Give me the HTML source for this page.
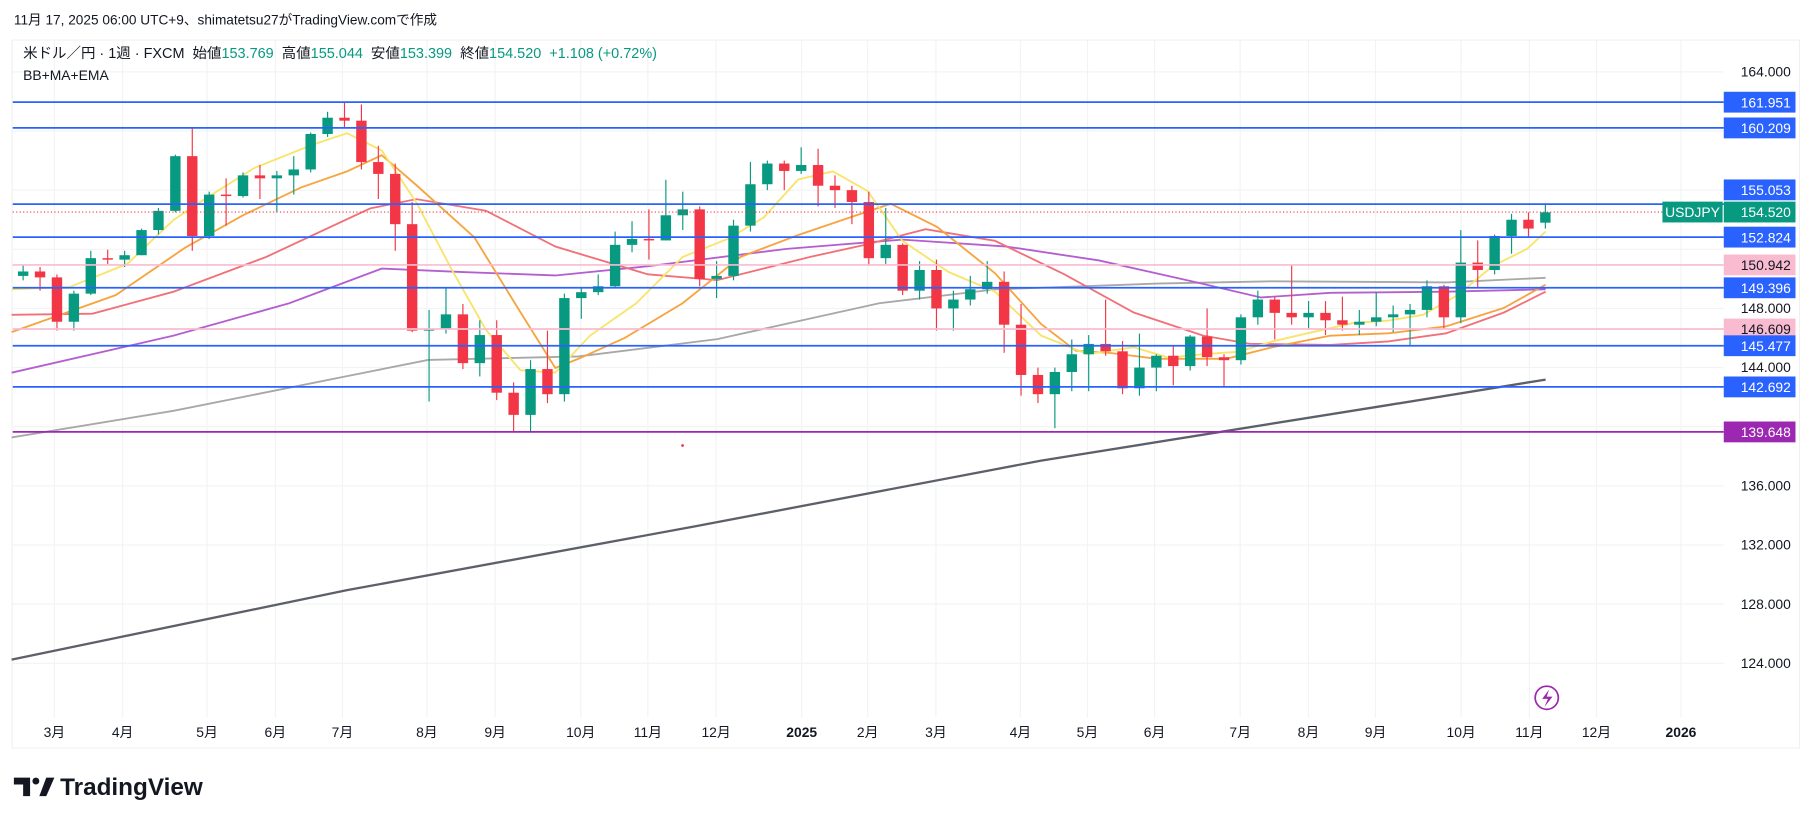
<!DOCTYPE html>
<html><head><meta charset="utf-8">
<style>
html,body{margin:0;padding:0;background:#fff;}
svg{display:block;}
text{font-family:"Liberation Sans","Noto Sans CJK JP",sans-serif;}
</style></head>
<body>
<svg id="c" width="1814" height="824" viewBox="0 0 1568 712" xmlns="http://www.w3.org/2000/svg">
<rect width="1568" height="712" fill="#fff"/>
<text x="12" y="21" font-size="11.8" fill="#131722">11月 17, 2025 06:00 UTC+9、shimatetsu27がTradingView.comで作成</text>
<rect x="10.5" y="34.5" width="1545" height="612" fill="#fff" stroke="#f0f0f0"/>
<g id="grid" stroke="#f2f3f5" stroke-width="1"></g>
<g id="lines" fill="none" stroke-width="1.6"></g>
<g id="candles"></g>
<g id="hl"></g>
<text x="20" y="50" font-size="12.5" fill="#131722" xml:space="preserve">米ドル／円 · 1週 · FXCM  始値<tspan fill="#089981">153.769</tspan>  高値<tspan fill="#089981">155.044</tspan>  安値<tspan fill="#089981">153.399</tspan>  終値<tspan fill="#089981">154.520  +1.108 (+0.72%)</tspan></text>
<text x="20" y="69" font-size="12" fill="#131722">BB+MA+EMA</text>
<g id="axis" font-size="12" fill="#131722"></g>
<circle cx="590" cy="385" r="1.2" fill="#f23645"/>
<circle cx="1337" cy="603" r="10" fill="none" stroke="#9c27b0" stroke-width="1.5"/>
<path d="M1339 596 L1333 604 L1338 604 L1335 611 L1342 602 L1337 602 Z" fill="#9c27b0"/>
<g transform="translate(12,669)">
<path d="M0 3 H14 V19 H8 V9 H0 Z" fill="#131722"/>
<circle cx="19" cy="6" r="3" fill="#131722"/>
<path d="M22 19 L28 3 H35 L28 19 Z" fill="#131722"/>
<text x="40" y="18" font-size="21" font-weight="bold" fill="#131722">TradingView</text>
</g>
</svg>
<script>
const NS="http://www.w3.org/2000/svg";
function el(t,a,p,txt){const e=document.createElementNS(NS,t);for(const k in a)e.setAttribute(k,a[k]);if(txt!==undefined)e.textContent=txt;p.appendChild(e);return e;}
const Y=p=>62+(164-p)*12.78;
const grid=document.getElementById('grid');
const months=[[47,'3月'],[106,'4月'],[179,'5月'],[238,'6月'],[296,'7月'],[369,'8月'],[428,'9月'],[502,'10月'],[560,'11月'],[619,'12月'],[693,'2025',1],[750,'2月'],[809,'3月'],[882,'4月'],[940,'5月'],[998,'6月'],[1072,'7月'],[1131,'8月'],[1189,'9月'],[1263,'10月'],[1322,'11月'],[1380,'12月'],[1453,'2026',1]];
const axis=document.getElementById('axis');
months.forEach(m=>{el('line',{x1:m[0],x2:m[0],y1:35,y2:620},grid);
 el('text',{x:m[0],y:637,'text-anchor':'middle','font-weight':m[2]?'bold':'normal'},axis,m[1]);});
for(let p=124;p<=164;p+=4){el('line',{x1:11,x2:1490,y1:Y(p),y2:Y(p)},grid);}
[164,148,144,136,132,128,124].forEach(p=>el('text',{x:1548,y:Y(p)+4,'text-anchor':'end'},axis,p.toFixed(3)));
const L=document.getElementById('lines');
const poly=(pts,c,w)=>el('polyline',{points:pts.map(p=>p.join(',')).join(' '),stroke:c,'stroke-width':w||1.6},L);
poly([[10,570],[300,510],[600,455],[900,398],[1200,350],[1336,328]],'#5d606b',2);
poly([[10,378],[150,355],[300,325],[370,311],[500,308],[620,293],[760,262],[860,250],[1000,245],[1100,243],[1250,244],[1336,240]],'#a8a8a8');
poly([[10,322],[150,290],[250,262],[330,232],[400,235],[480,238],[560,230],[680,215],[780,207],[870,213],[950,225],[1030,243],[1090,257],[1150,253],[1250,252],[1336,250]],'#b45fcf');
poly([[10,272],[80,271],[150,252],[230,222],[320,180],[360,172],[420,182],[480,213],[560,237],[620,242],[700,222],[750,211],[800,198],[860,208],[920,237],[980,270],[1040,290],[1080,297],[1150,298],[1200,295],[1250,288],[1300,270],[1336,252]],'#f07178');
poly([[10,287],[100,255],[160,214],[210,186],[260,162],[300,148],[330,134],[360,160],[410,205],[450,270],[480,318],[500,310],[540,292],[590,262],[640,222],[690,203],[740,186],[770,176],[810,196],[860,236],[900,280],[930,303],[960,305],[1000,310],[1060,310],[1100,300],[1150,290],[1200,288],[1250,282],[1300,266],[1336,246]],'#f7a440');
poly([[10,250],[60,248],[110,228],[150,190],[180,170],[220,145],[270,125],[300,115],[330,130],[360,175],[390,232],[420,285],[450,320],[480,322],[510,290],[550,262],[590,222],[630,206],[660,188],[690,155],[720,148],[750,165],[780,208],[820,235],[860,252],[900,290],[940,306],[980,300],[1010,309],[1040,306],[1070,304],[1100,295],[1130,288],[1170,279],[1200,277],[1230,272],[1260,255],[1290,230],[1320,215],[1336,200]],'#f9e46a');
const d=[[150.2,150.9,149.9,150.5],[150.5,150.8,149.2,150.1],[150.1,150.3,146.5,147.1],[147.1,149.2,146.5,149.0],[149.0,151.9,148.9,151.4],[151.4,151.97,151.0,151.3],[151.3,151.9,150.8,151.6],[151.6,153.4,151.6,153.3],[153.3,154.8,153.0,154.6],[154.6,158.4,154.5,158.3],[158.3,160.2,151.9,152.9],[152.9,155.9,152.7,155.7],[155.7,156.8,153.6,155.6],[155.6,157.2,155.5,157.0],[157.0,157.7,155.4,156.8],[156.8,157.3,154.5,157.0],[157.0,158.3,155.7,157.4],[157.4,159.9,157.2,159.8],[159.8,161.3,159.6,160.9],[160.9,161.95,160.2,160.7],[160.7,161.8,157.4,157.9],[157.9,159.0,155.4,157.1],[157.1,157.8,151.9,153.7],[153.7,155.2,146.4,146.5],[146.5,147.9,141.7,146.6],[146.6,149.4,146.3,147.6],[147.6,148.3,143.9,144.3],[144.3,147.2,143.4,146.2],[146.2,147.2,141.8,142.3],[142.3,143.0,139.6,140.8],[140.8,144.5,139.6,143.9],[143.9,146.5,141.6,142.2],[142.2,149.0,141.7,148.7],[148.7,149.4,147.3,149.1],[149.1,150.3,148.9,149.5],[149.5,153.2,149.4,152.3],[152.3,153.9,151.8,152.7],[152.7,154.7,151.3,152.6],[152.6,156.7,152.6,154.3],[154.3,155.9,153.3,154.7],[154.7,154.9,149.5,150.0],[150.0,151.2,148.7,150.2],[150.2,154.0,149.9,153.6],[153.6,157.9,153.2,156.4],[156.4,158.0,156.0,157.8],[157.8,158.0,156.0,157.3],[157.3,158.9,157.1,157.7],[157.7,158.8,154.9,156.3],[156.3,157.0,154.8,156.0],[156.0,156.3,153.7,155.2],[155.2,155.9,150.9,151.4],[151.4,154.8,151.0,152.3],[152.3,152.4,148.9,149.2],[149.2,151.2,148.6,150.6],[150.6,151.3,146.5,148.0],[148.0,149.2,146.5,148.6],[148.6,150.2,148.2,149.3],[149.3,151.2,149.0,149.8],[149.8,150.5,145.0,146.9],[146.9,148.3,142.1,143.5],[143.5,144.0,141.6,142.2],[142.2,144.0,139.9,143.7],[143.7,145.9,142.4,144.9],[144.9,146.2,142.4,145.6],[145.6,148.6,144.8,145.1],[145.1,145.8,142.2,142.6],[142.6,146.3,142.1,144.0],[144.0,144.9,142.4,144.8],[144.8,145.5,142.8,144.1],[144.1,146.2,143.8,146.1],[146.1,148.0,144.1,144.7],[144.7,144.9,142.7,144.5],[144.5,147.6,144.2,147.4],[147.4,149.2,146.9,148.6],[148.6,148.8,145.9,147.7],[147.7,150.9,146.9,147.4],[147.4,148.5,146.6,147.7],[147.7,148.5,146.2,147.2],[147.2,148.8,146.5,146.9],[146.9,147.9,146.2,147.1],[147.1,149.1,146.8,147.4],[147.4,148.2,146.4,147.6],[147.6,148.3,145.5,147.9],[147.9,149.9,147.4,149.5],[149.5,149.6,146.6,147.4],[147.4,153.3,147.0,151.1],[151.1,152.6,149.4,150.6],[150.6,153.0,150.3,152.9],[152.9,154.4,151.7,154.0],[154.0,154.5,152.8,153.4],[153.8,155.0,153.4,154.5]];
const C=document.getElementById('candles');
d.forEach((c,i)=>{const x=20+i*14.62;const up=c[3]>=c[0];const col=up?'#089981':'#f23645';
 el('line',{x1:x,x2:x,y1:Y(c[1]),y2:Y(c[2]),stroke:col,'stroke-width':1},C);
 const t=Y(Math.max(c[0],c[3])),b=Y(Math.min(c[0],c[3]));
 el('rect',{x:x-4.5,y:t,width:9,height:Math.max(1,b-t),fill:col},C);});
const H=document.getElementById('hl');
const hls=[[161.951,'#2962ff','#fff'],[160.209,'#2962ff','#fff'],[155.053,'#2962ff','#fff',164],[152.824,'#2962ff','#fff'],[150.942,'#f8bbd0','#131722'],[149.396,'#2962ff','#fff'],[146.609,'#f8bbd0','#131722'],[145.477,'#2962ff','#fff'],[142.692,'#2962ff','#fff'],[139.648,'#9c27b0','#fff']];
hls.forEach(h=>{const y=Y(h[0]);const ly=h[3]||y;el('line',{x1:11,x2:1490,y1:y,y2:y,stroke:h[1],'stroke-width':1.5},H);
 el('rect',{x:1490,y:ly-9,width:62,height:18,fill:h[1]},H);
 el('text',{x:1548,y:ly+4.5,'text-anchor':'end','font-size':12,fill:h[2]},H,h[0].toFixed(3));});
const yc=Y(154.52);
el('line',{x1:11,x2:1437,y1:yc,y2:yc,stroke:'#f23645','stroke-width':1,'stroke-dasharray':'1,2'},H);
el('rect',{x:1437,y:yc-9,width:52,height:18,fill:'#089981'},H);
el('text',{x:1463,y:yc+4.5,'text-anchor':'middle','font-size':12,fill:'#fff'},H,'USDJPY');
el('rect',{x:1490,y:yc-9,width:62,height:18,fill:'#089981'},H);
el('text',{x:1548,y:yc+4.5,'text-anchor':'end','font-size':12,fill:'#fff'},H,'154.520');
</script>
</body></html>
